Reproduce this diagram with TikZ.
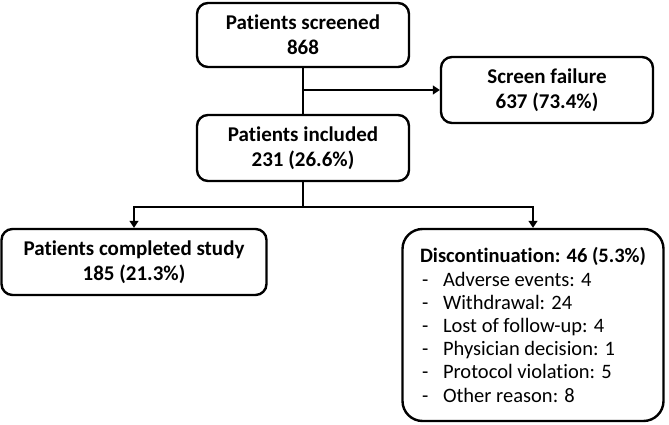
\documentclass[tikz,border=0pt]{standalone}
\usepackage{fontspec}
\setmainfont{Carlito}[Ligatures = NoCommon]
\usetikzlibrary{arrows.meta}
\newcommand{\dropreason}[1]{\makebox[23pt][l]{\hspace{2pt}-}#1}
\tikzset{
	consort/.is family,
	consort/.cd,
	box/.style = {
		draw,
		line width = 2.4pt,
		rounded corners = 11pt,
		align = center,
		inner sep = 0pt,
		font = \bfseries\fontsize{21}{25}\selectfont,
	},
	list box/.style = {
		consort/box,
		rounded corners = 20pt,
		align = left,
		font = \fontsize{20.5}{23.2}\selectfont,
	},
	link/.style = {
		line width = 1.4pt,
	},
	arrow/.style = {
		consort/link,
		-{Triangle[length = 7pt, width = 9pt]},
	},
}

\begin{document}
\begin{tikzpicture}[x = 1pt, y = -1pt]
		\useasboundingbox (0, 0) rectangle (669, 425);

		\node[consort/box, minimum width = 212pt, minimum height = 64pt] (screened) at (303, 35) {Patients screened\\868};
		\node[consort/box, minimum width = 212pt, minimum height = 66pt] (failure) at (547, 90) {Screen failure\\637 (73.4\%)};
		\node[consort/box, minimum width = 212pt, minimum height = 66pt] (included) at (303, 148) {Patients included\\231 (26.6\%)};
		\node[consort/box, minimum width = 265pt, minimum height = 66pt] (completed) at (134, 262) {Patients completed study\\185 (21.3\%)};
		\node[consort/list box, minimum width = 261pt, minimum height = 192pt] (discontinued) at (533, 325) {%
			\textbf{Discontinuation: 46 (5.3\%)}\\
			\dropreason{Adverse events: 4}\\
			\dropreason{Withdrawal: 24}\\
			\dropreason{Lost of follow-up: 4}\\
			\dropreason{Physician decision: 1}\\
			\dropreason{Protocol violation: 5}\\
			\dropreason{Other reason: 8}};

		\coordinate (split) at (303, 207);

		\draw[consort/link] (screened) -- (included);
		\draw[consort/arrow] (screened |- failure) -- (failure);
		\draw[consort/link] (included) -- (split);
		\draw[consort/arrow] (split) -| (completed);
		\draw[consort/arrow] (split) -| (discontinued);
	\end{tikzpicture}
\end{document}
